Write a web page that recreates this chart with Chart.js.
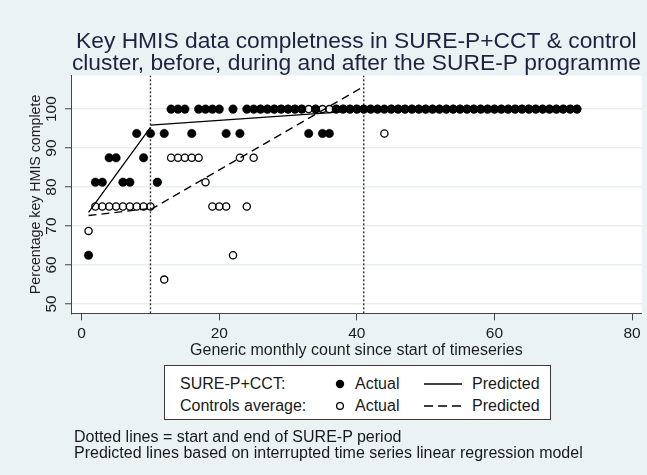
<!DOCTYPE html>
<html>
<head>
<meta charset="utf-8">
<script src="https://cdn.jsdelivr.net/npm/chart.js@4.4.1/dist/chart.umd.min.js"></script>
<style>
  html, body { margin: 0; padding: 0; background: #eaf2f3; }
  #wrap { position: relative; width: 647px; height: 475px; overflow: hidden;
          font-family: "Liberation Sans", Arial, sans-serif; color: #1a1a1a; }
  #chart { position: absolute; left: 0; top: 0; }
  #legendBox { position: absolute; left: 164px; top: 365px; width: 385px; height: 53px;
               background: #fff; border: 1px solid #3a3a3a; }
  .lt { position: absolute; font-size: 16px; line-height: 20px; height: 20px; white-space: nowrap; }
  #legendMarks { position: absolute; left: 0; top: 0; }
  #notes { position: absolute; left: 74px; top: 429px; font-size: 16px; line-height: 15.5px; white-space: nowrap; }
</style>
</head>
<body>
<div id="wrap">
  <canvas id="chart" width="647" height="475"></canvas>
  <div id="legendBox"></div>
  <svg id="legendMarks" width="647" height="475">
    <circle cx="340" cy="384" r="4.2" fill="#000"/>
    <circle cx="340" cy="406" r="3.4" fill="#fff" stroke="#000" stroke-width="1.3"/>
    <line x1="424" y1="384" x2="462" y2="384" stroke="#000" stroke-width="1.3"/>
    <line x1="424" y1="406" x2="462" y2="406" stroke="#000" stroke-width="1.3" stroke-dasharray="9 5"/>
  </svg>
  <div class="lt" style="left:180px; top:374px">SURE-P+CCT:</div>
  <div class="lt" style="left:355px; top:374px">Actual</div>
  <div class="lt" style="left:472px; top:374px">Predicted</div>
  <div class="lt" style="left:180px; top:396px">Controls average:</div>
  <div class="lt" style="left:355px; top:396px">Actual</div>
  <div class="lt" style="left:472px; top:396px">Predicted</div>
  <div id="notes">Dotted lines = start and end of SURE-P period<br>Predicted lines based on interrupted time series linear regression model</div>
</div>
<script>
// monthly data
const months = [
  1, 2, 3, 4, 5, 6, 7, 8, 9, 10, 11, 12, 13, 14, 15, 16, 17, 18,
  19, 20, 21, 22, 23, 24, 25, 26, 27, 28, 29, 30, 31, 32, 33, 34, 35, 36,
  37, 38, 39, 40, 41, 42, 43, 44, 45, 46, 47, 48, 49, 50, 51, 52, 53, 54,
  55, 56, 57, 58, 59, 60, 61, 62, 63, 64, 65, 66, 67, 68, 69, 70, 71, 72,
];
const sureActual = [
  62.5, 81.25, 81.25, 87.5, 87.5, 81.25, 81.25, 93.75, 87.5, 93.75, 81.25, 93.75,
  100, 100, 100, 93.75, 100, 100, 100, 100, 93.75, 100, 93.75, 100,
  100, 100, 100, 100, 100, 100, 100, 100, 93.75, 100, 93.75, 93.75,
  100, 100, 100, 100, 100, 100, 100, 100, 100, 100, 100, 100,
  100, 100, 100, 100, 100, 100, 100, 100, 100, 100, 100, 100,
  100, 100, 100, 100, 100, 100, 100, 100, 100, 100, 100, 100,
];
const controlActual = [
  68.75, 75, 75, 75, 75, 75, 75, 75, 75, 75, 81.25, 56.25,
  87.5, 87.5, 87.5, 87.5, 87.5, 81.25, 75, 75, 75, 62.5, 87.5, 75,
  87.5, 100, 100, 100, 100, 100, 100, 100, 100, 100, 100, 100,
  100, 100, 100, 100, 100, 100, 100, 93.75, 100, 100, 100, 100,
  100, 100, 100, 100, 100, 100, 100, 100, 100, 100, 100, 100,
  100, 100, 100, 100, 100, 100, 100, 100, 100, 100, 100, 100,
];

// segment end points of the interrupted regression lines (null = break)
const predMonths = [1, 10, 10, 10, 41, 41, 41, 72];
const surePredicted = [73.5, 95.3, null, 95.9, 99.7, null, 100, 100];
const controlPredicted = [72.7, 74.5, null, 74.2, 105.8, null, 99.8, 99.8];

const periodBounds = [10, 41];
const xTicks = [0, 20, 40, 60, 80];
const yTicks = [50, 60, 70, 80, 90, 100];
const X_MIN = -1.55, X_MAX = 81.4;
const Y_MIN = 47.6, Y_MAX = 108.6;

const TITLE = [
  "Key HMIS data completness in SURE-P+CCT & control",
  "cluster, before, during and after the SURE-P programme",
];
const FONT = "'Liberation Sans', Arial, sans-serif";
const INK = "#1c1c24";
const AXIS = "#444";

const toPoints = (xs, ys) => xs.map((x, i) => ({ x, y: ys[i] }));

const plotBackground = {
  id: "plotBackground",
  beforeDraw(chart) {
    const { ctx, chartArea: a } = chart;
    ctx.save();
    ctx.fillStyle = "#eaf2f3";
    ctx.fillRect(0, 0, chart.width, chart.height);
    ctx.fillStyle = "#fff";
    ctx.fillRect(a.left, a.top, a.right - a.left, a.bottom - a.top);
    ctx.restore();
  },
};

const periodSets = periodBounds.map((m) => ({
  type: "line",
  data: [{ x: m, y: Y_MIN }, { x: m, y: Y_MAX }],
  borderColor: "#333",
  borderWidth: 1.4,
  borderDash: [2, 2],
  pointRadius: 0,
  order: 9,
}));

new Chart(document.getElementById("chart"), {
  type: "scatter",
  data: {
    datasets: [
      ...periodSets,
      {
        label: "SURE-P+CCT actual",
        data: toPoints(months, sureActual),
        pointRadius: 4.3,
        pointBackgroundColor: "#000",
        pointBorderColor: "#000",
        pointBorderWidth: 0.4,
        order: 1,
      },
      {
        type: "line",
        label: "SURE-P+CCT predicted",
        data: toPoints(predMonths, surePredicted),
        borderColor: "#000",
        borderWidth: 1.3,
        pointRadius: 0,
        spanGaps: false,
        order: 5,
      },
      {
        label: "Controls actual",
        data: toPoints(months, controlActual),
        pointRadius: 3.6,
        pointBackgroundColor: "rgba(255,255,255,0)",
        pointBorderColor: "#000",
        pointBorderWidth: 1.3,
        order: 4,
      },
      {
        type: "line",
        label: "Controls predicted",
        data: toPoints(predMonths, controlPredicted),
        borderColor: "#000",
        borderWidth: 1.3,
        borderDash: [8, 5],
        pointRadius: 0,
        spanGaps: false,
        order: 3,
      },
    ],
  },
  options: {
    responsive: false,
    animation: false,
    events: [],
    layout: { padding: { top: 0, left: 0, right: 4.3, bottom: 115 } },
    plugins: {
      legend: { display: false },
      tooltip: { enabled: false },
      title: {
        display: true,
        text: TITLE,
        fullSize: false,
        color: "#1c2440",
        font: { family: FONT, size: 22.8, weight: "normal", lineHeight: 1.0 },
        padding: { top: 30, bottom: 0 },
      },
    },
    scales: {
      x: {
        type: "linear",
        min: X_MIN,
        max: X_MAX,
        afterBuildTicks: (s) => { s.ticks = xTicks.map((value) => ({ value })); },
        afterFit: (s) => { s.height = 46.7; },
        border: { display: true, color: AXIS, width: 1 },
        grid: { drawOnChartArea: false, drawTicks: true, tickLength: 7, tickColor: AXIS, tickWidth: 1 },
        ticks: { color: INK, padding: 4, maxRotation: 0, font: { family: FONT, size: 15.5 } },
        title: {
          display: true,
          text: "Generic monthly count since start of timeseries",
          color: INK,
          font: { family: FONT, size: 16 },
          padding: { top: 0, bottom: 0 },
        },
      },
      y: {
        type: "linear",
        min: Y_MIN,
        max: Y_MAX,
        afterBuildTicks: (s) => { s.ticks = yTicks.map((value) => ({ value })); },
        afterFit: (s) => { s.width = 71; },
        border: { display: true, color: AXIS, width: 1 },
        grid: { color: "#e6eff0", lineWidth: 1.5, drawTicks: true, tickLength: 6, tickColor: AXIS, tickWidth: 1 },
        ticks: {
          color: INK,
          padding: 0,
          minRotation: 90,
          maxRotation: 90,
          crossAlign: "center",
          font: { family: FONT, size: 15.5 },
        },
        title: {
          display: true,
          text: "Percentage key HMIS complete",
          color: INK,
          font: { family: FONT, size: 14.2 },
          padding: { top: 28, bottom: 0 },
        },
      },
    },
  },
  plugins: [plotBackground],
});
</script>
</body>
</html>
